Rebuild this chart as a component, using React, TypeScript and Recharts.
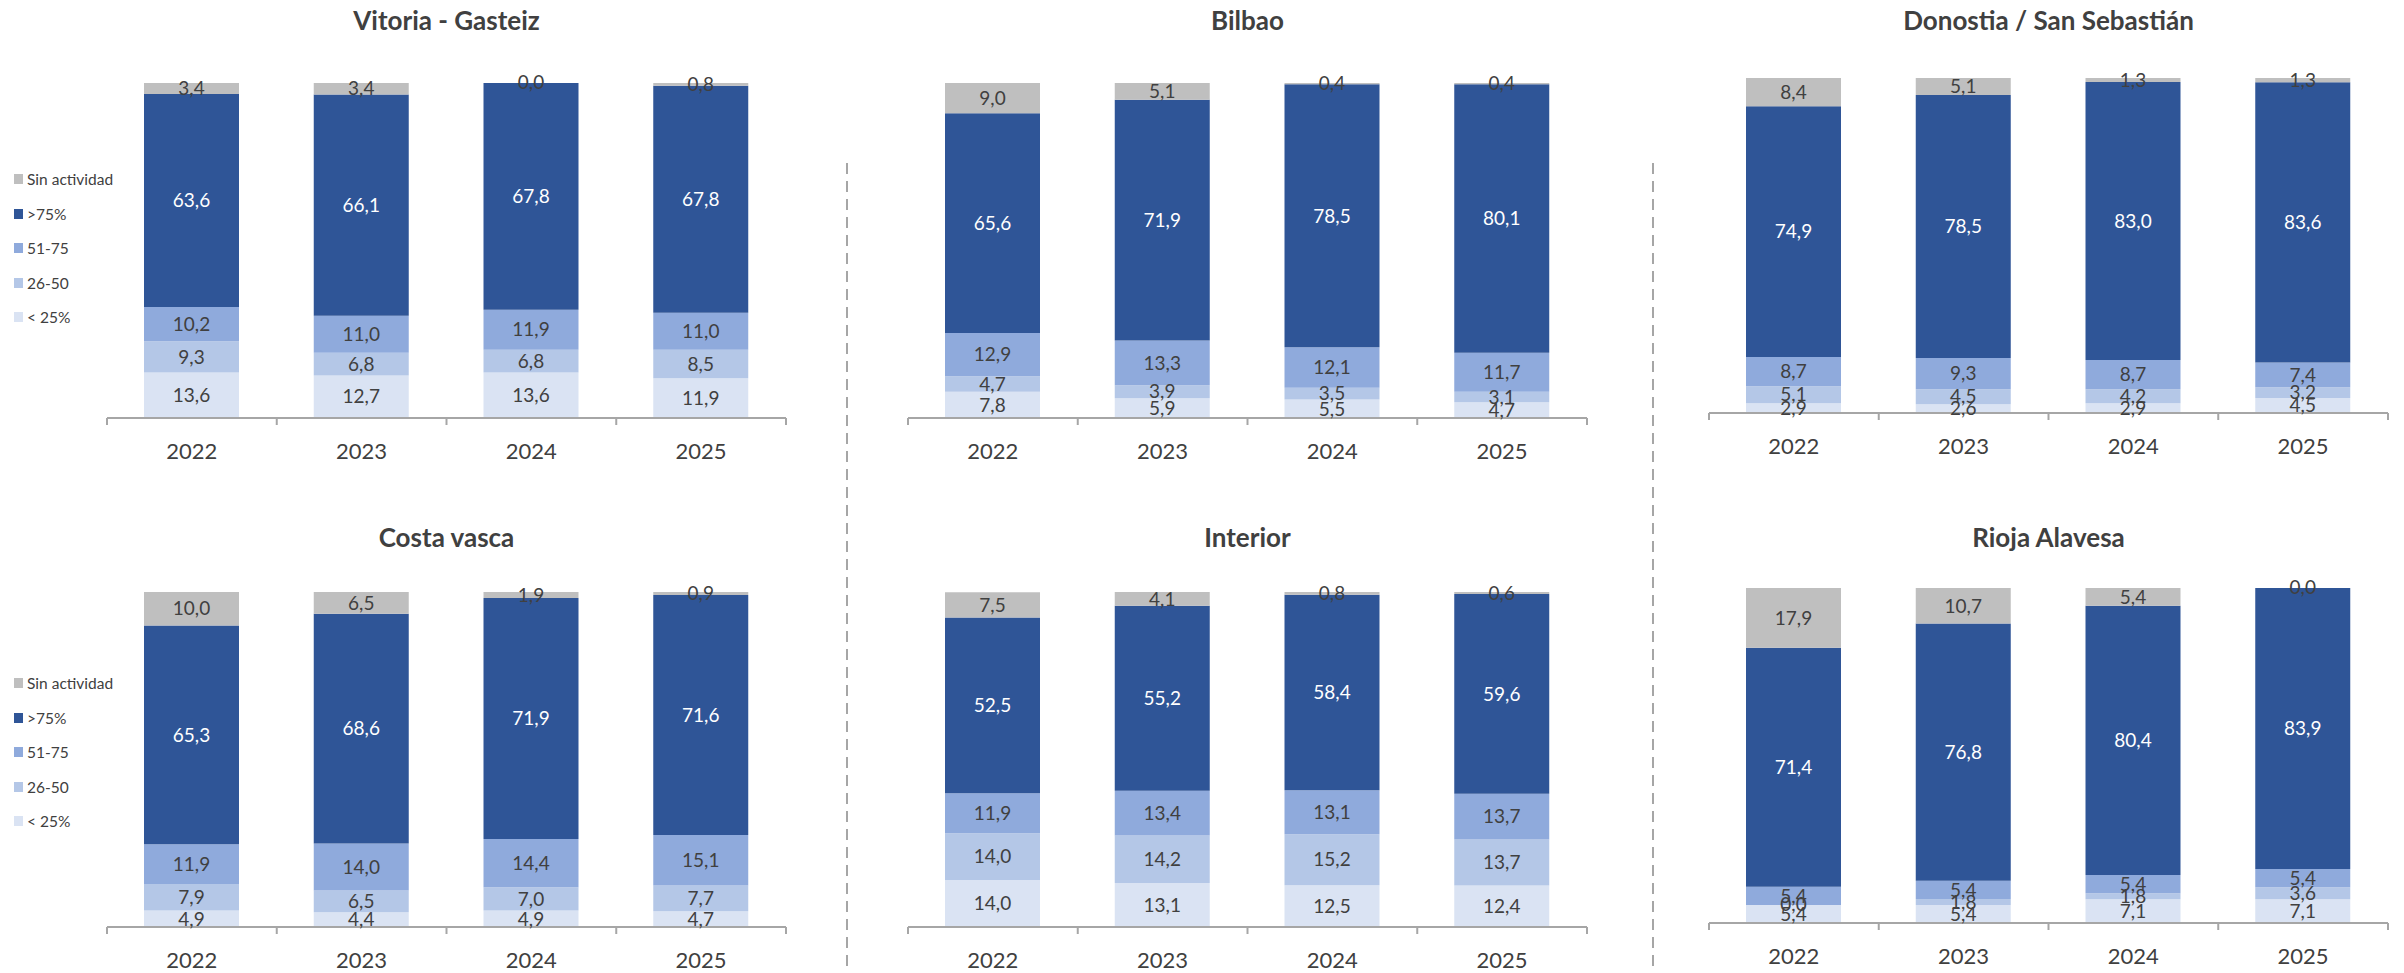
import { BarChart, Bar, XAxis, YAxis, LabelList } from "recharts";

const years = ["2022", "2023", "2024", "2025"];
const seriesNames = ["< 25%", "26-50", "51-75", ">75%", "Sin actividad"];
const seriesColors = ["#DAE3F3", "#B4C7E7", "#8FAADC", "#2F5597", "#BFBFBF"];
const labelColors = ["#404040", "#404040", "#404040", "#FFFFFF", "#404040"];

// one row per year, columns in seriesNames order
const vitoriaGasteiz = [
  [13.6, 9.3, 10.2, 63.6, 3.4],
  [12.7, 6.8, 11.0, 66.1, 3.4],
  [13.6, 6.8, 11.9, 67.8, 0.0],
  [11.9, 8.5, 11.0, 67.8, 0.8],
];
const bilbao = [
  [7.8, 4.7, 12.9, 65.6, 9.0],
  [5.9, 3.9, 13.3, 71.9, 5.1],
  [5.5, 3.5, 12.1, 78.5, 0.4],
  [4.7, 3.1, 11.7, 80.1, 0.4],
];
const donostia = [
  [2.9, 5.1, 8.7, 74.9, 8.4],
  [2.6, 4.5, 9.3, 78.5, 5.1],
  [2.9, 4.2, 8.7, 83.0, 1.3],
  [4.5, 3.2, 7.4, 83.6, 1.3],
];
const costaVasca = [
  [4.9, 7.9, 11.9, 65.3, 10.0],
  [4.4, 6.5, 14.0, 68.6, 6.5],
  [4.9, 7.0, 14.4, 71.9, 1.9],
  [4.7, 7.7, 15.1, 71.6, 0.9],
];
const interior = [
  [14.0, 14.0, 11.9, 52.5, 7.5],
  [13.1, 14.2, 13.4, 55.2, 4.1],
  [12.5, 15.2, 13.1, 58.4, 0.8],
  [12.4, 13.7, 13.7, 59.6, 0.6],
];
const riojaAlavesa = [
  [5.4, 0.0, 5.4, 71.4, 17.9],
  [5.4, 1.8, 5.4, 76.8, 10.7],
  [7.1, 1.8, 5.4, 80.4, 5.4],
  [7.1, 3.6, 5.4, 83.9, 0.0],
];

const FONT = "Lato, 'Open Sans', sans-serif";
const TEXT = "#404040";
const AXIS = "#A6A6A6";
const PLOT_W = 679;
const PLOT_H = 335;
const PAD = 20;
const BAND = PLOT_W / years.length;

const fmt = (v: number) => v.toFixed(1).replace(".", ",");

const toRows = (rows: number[][]) =>
  years.map((year, i) => {
    const o: Record<string, any> = { year };
    rows[i].forEach((v, j) => (o["s" + j] = v));
    return o;
  });

const YearTick = (props: any) => {
  const { x, y, payload, index } = props;
  const last = index === years.length - 1;
  return (
    <g>
      <line x1={x - BAND / 2} x2={x - BAND / 2} y1={y} y2={y + 7} stroke={AXIS} strokeWidth={2} />
      {last && <line x1={x + BAND / 2} x2={x + BAND / 2} y1={y} y2={y + 7} stroke={AXIS} strokeWidth={2} />}
      <text x={x} y={y + 32} textAnchor="middle" dominantBaseline="central" fill={TEXT} fontSize={22} fontFamily={FONT}>
        {payload.value}
      </text>
    </g>
  );
};

type PanelProps = {
  title: string;
  rows: number[][];
  plotX: number;
  plotTop: number;
  titleY: number;
};

const Panel = ({ title, rows, plotX, plotTop, titleY }: PanelProps) => {
  const data = toRows(rows);
  return (
    <>
      <div
        style={{
          position: "absolute",
          left: plotX,
          width: PLOT_W,
          top: titleY,
          transform: "translateY(-50%)",
          textAlign: "center",
          fontFamily: FONT,
          fontWeight: 700,
          fontSize: 26,
          color: TEXT,
          lineHeight: 1,
        }}
      >
        {title}
      </div>
      <div style={{ position: "absolute", left: plotX - PAD, top: plotTop - PAD }}>
        <BarChart
          width={PLOT_W + PAD * 2}
          height={PLOT_H + PAD + 55}
          data={data}
          margin={{ top: PAD, right: PAD, left: PAD, bottom: 0 }}
          barSize={95}
        >
          <YAxis hide domain={[0, 100]} allowDataOverflow />
          <XAxis
            dataKey="year"
            height={55}
            axisLine={{ stroke: AXIS, strokeWidth: 2 }}
            tickLine={false}
            tickSize={0}
            tickMargin={0}
            interval={0}
            tick={<YearTick />}
          />
          {seriesNames.map((name, j) => (
            <Bar
              key={name}
              dataKey={"s" + j}
              name={name}
              stackId="a"
              fill={seriesColors[j]}
              minPointSize={1}
              isAnimationActive={false}
            >
              <LabelList
                dataKey={"s" + j}
                position="center"
                formatter={(v: any) => fmt(Number(v))}
                fill={labelColors[j]}
                fontSize={19}
                fontFamily={FONT}
              />
            </Bar>
          ))}
        </BarChart>
      </div>
    </>
  );
};

const Legend = ({ top }: { top: number }) => (
  <>
    {[...seriesNames].reverse().map((name, i) => {
      const color = seriesColors[seriesNames.length - 1 - i];
      return (
        <div
          key={name}
          style={{
            position: "absolute",
            left: 14,
            top: top + i * 34.6,
            transform: "translateY(-50%)",
            display: "flex",
            alignItems: "center",
            fontFamily: FONT,
            fontSize: 15.5,
            color: TEXT,
            whiteSpace: "nowrap",
          }}
        >
          <span style={{ display: "inline-block", width: 9, height: 10, background: color, marginRight: 4 }} />
          {name}
        </div>
      );
    })}
  </>
);

export default function App() {
  return (
    <div
      style={{
        position: "absolute",
        left: 0,
        top: 0,
        width: 2404,
        height: 973,
        background: "#fff",
        overflow: "hidden",
      }}
    >
      <Panel title="Vitoria - Gasteiz" rows={vitoriaGasteiz} plotX={107} plotTop={83} titleY={20} />
      <Panel title="Bilbao" rows={bilbao} plotX={908} plotTop={83} titleY={20} />
      <Panel title="Donostia / San Sebastián" rows={donostia} plotX={1709} plotTop={78} titleY={20} />
      <Panel title="Costa vasca" rows={costaVasca} plotX={107} plotTop={592} titleY={537} />
      <Panel title="Interior" rows={interior} plotX={908} plotTop={592} titleY={537} />
      <Panel title="Rioja Alavesa" rows={riojaAlavesa} plotX={1709} plotTop={588} titleY={537} />
      <Legend top={179} />
      <Legend top={683} />
      <svg width={2404} height={973} style={{ position: "absolute", left: 0, top: 0, pointerEvents: "none" }}>
        <line x1={847} x2={847} y1={163} y2={973} stroke={AXIS} strokeWidth={2} strokeDasharray="11 7" />
        <line x1={1653} x2={1653} y1={163} y2={973} stroke={AXIS} strokeWidth={2} strokeDasharray="11 7" />
      </svg>
    </div>
  );
}
